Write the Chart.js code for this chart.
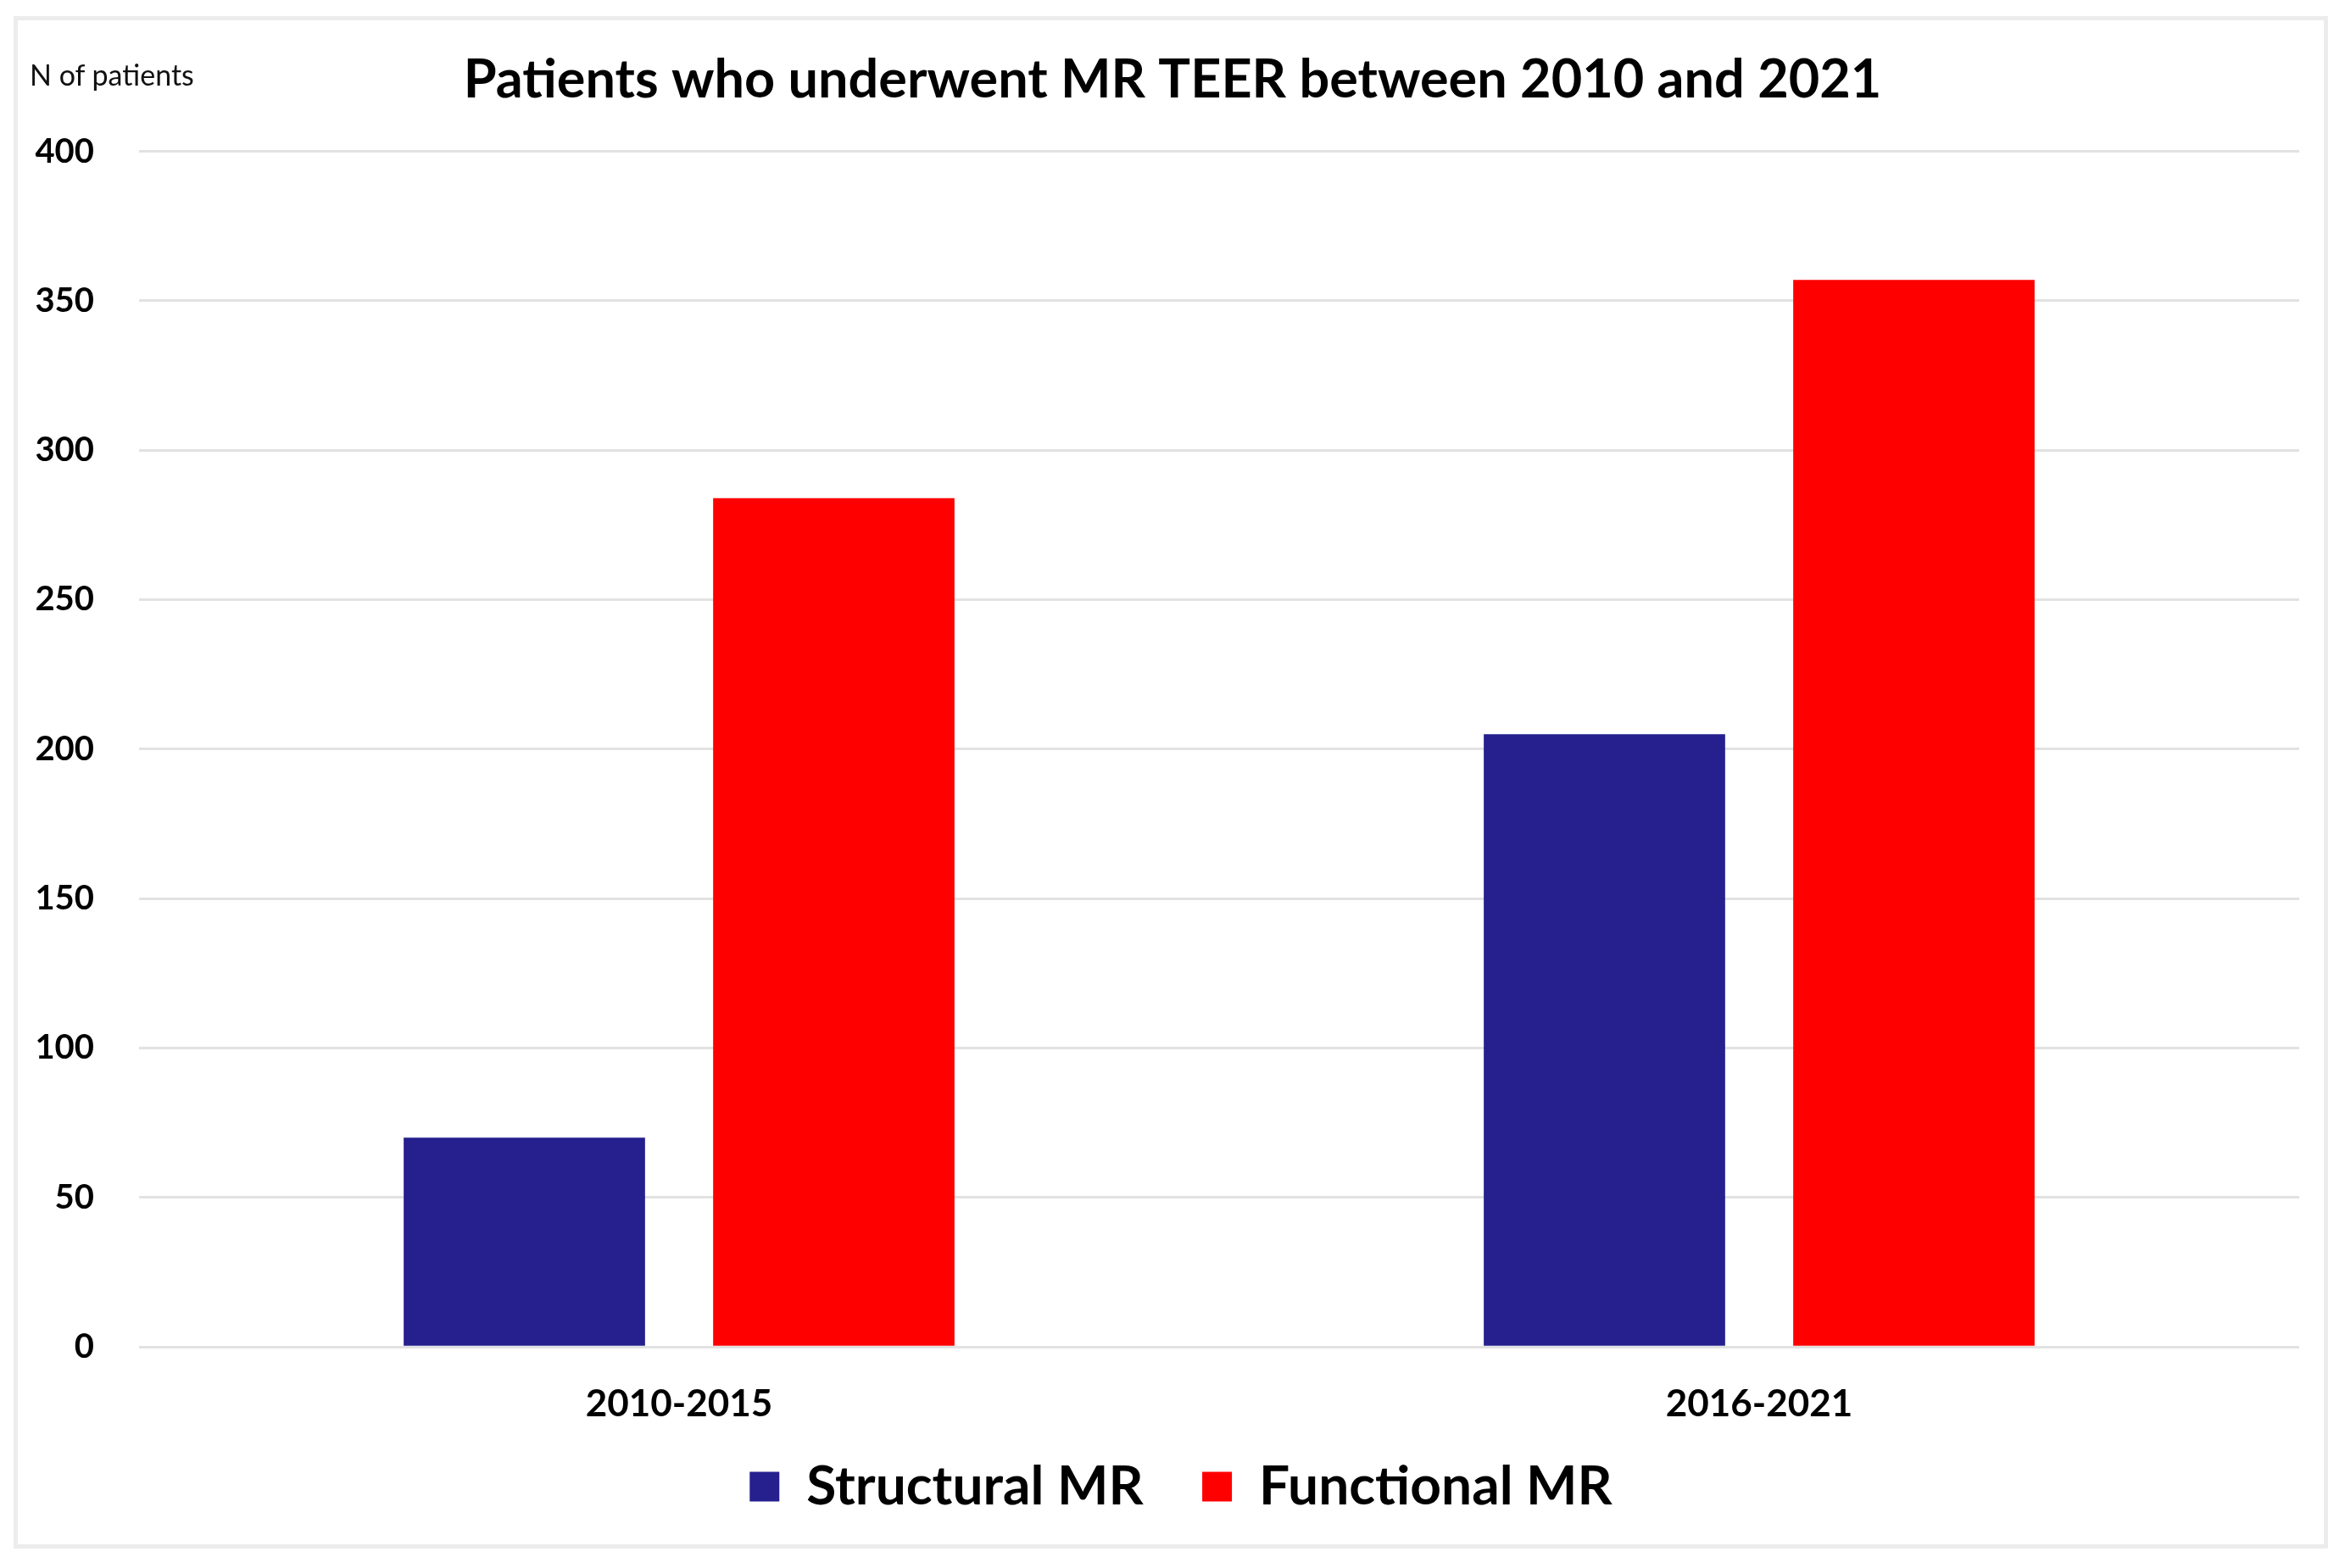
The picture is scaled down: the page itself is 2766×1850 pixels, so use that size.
<!DOCTYPE html>
<html>
<head>
<meta charset="utf-8">
<script src="https://cdn.jsdelivr.net/npm/chart.js@4.4.1/dist/chart.umd.min.js"></script>
<style>
  html, body { margin: 0; padding: 0; background: #fff; }
  #frame {
    position: absolute; left: 16px; top: 19px; width: 2720px; height: 1798px;
    border: 5px solid #ececec; box-sizing: content-box;
  }
  #wrap { position: absolute; left: 0; top: 0; width: 2766px; height: 1850px; }
  #ylabel {
    position: absolute; left: 35px; top: 67px;
    font-family: Lato, sans-serif; font-size: 34px; color: #111;
  }
</style>
</head>
<body>
<div id="frame"></div>
<div id="wrap"><canvas id="chart"></canvas></div>
<div id="ylabel">N of patients</div>
<script>
const categories = ["2010-2015", "2016-2021"];
const structuralMR = [70, 205];
const functionalMR = [284, 357];
const seriesNames = ["Structural MR", "Functional MR"];
const yMin = 0;
const yMax = 400;
const yStep = 50;

// default legend items, with extra room after every item but the last
function legendLabels(chart) {
  const items = Chart.defaults.plugins.legend.labels.generateLabels(chart);
  items.forEach(function (item, i) {
    if (i < items.length - 1) item.text = item.text + "\u2003 ";
  });
  return items;
}

// nudge title and legend a bit right, like the original
const nudgeBoxes = {
  id: "nudgeBoxes",
  afterLayout(chart) {
    if (chart.titleBlock) { chart.titleBlock.left += 27; chart.titleBlock.right += 27; }
    if (chart.legend) { chart.legend.left += 37; chart.legend.right += 37; }
  },
};

const ctx = document.getElementById("chart").getContext("2d");
const chart = new Chart(ctx, {
  type: "bar",
  data: {
    labels: categories,
    datasets: [{
      label: seriesNames[0],
      data: structuralMR,
      backgroundColor: "#25208e",
      categoryPercentage: 0.573,
      barPercentage: 0.78,
    }, {
      label: seriesNames[1],
      data: functionalMR,
      backgroundColor: "#ff0000",
      categoryPercentage: 0.573,
      barPercentage: 0.78,
    }],
  },
  plugins: [nudgeBoxes],
  options: {
    responsive: true,
    maintainAspectRatio: false,
    animation: false,
    devicePixelRatio: 1,
    layout: { padding: { left: 0, right: 54, top: 0, bottom: 54 } },
    plugins: {
      title: {
        display: true,
        text: "Patients who underwent MR TEER between 2010 and 2021",
        color: "#000",
        font: { family: "Lato", size: 63, weight: "bold" },
        padding: { top: 57, bottom: 46 },
      },
      legend: {
        position: "bottom",
        labels: {
          color: "#000",
          font: { family: "Lato", size: 64, weight: "bold" },
          boxWidth: 35,
          boxHeight: 35,
          padding: 6,
          generateLabels: legendLabels,
        },
      },
      tooltip: { enabled: false },
    },
    scales: {
      x: {
        grid: { display: false },
        border: { display: false },
        ticks: {
          color: "#000",
          font: { family: "Lato", size: 44, weight: "bold" },
          padding: 33,
        },
      },
      y: {
        min: yMin,
        max: yMax,
        grid: { color: "#e2e2e2", lineWidth: 3, drawTicks: false },
        border: { display: false },
        afterFit: function (scale) { scale.width = 164; },
        ticks: {
          stepSize: yStep,
          color: "#000",
          font: { family: "Lato", size: 40, weight: "bold" },
          padding: 53,
        },
      },
    },
  },
});
</script>
</body>
</html>
